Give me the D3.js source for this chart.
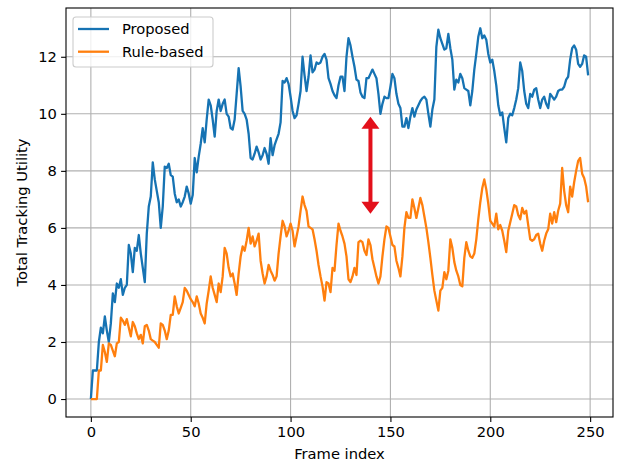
<!DOCTYPE html>
<html><head><meta charset="utf-8">
<script src="https://cdn.jsdelivr.net/npm/d3@7/dist/d3.min.js"></script>
<style>
body{margin:0;background:#fff}
svg{display:block}
text{font-family:"DejaVu Sans",sans-serif;fill:#000}
</style>
</head><body>
<svg id="chart" width="619" height="464"></svg>
<script>
// ---- data ----
const seriesNames = ["Proposed", "Rule-based"];
const seriesColors = ["#1673b3", "#ff7f0e"];
const proposed = [
0,1.0,1.0,1.0,2.0,2.5,2.3,2.9,2.4,2.0,
2.65,3.7,3.4,4.05,3.9,4.2,3.65,3.9,4.0,5.4,
5.1,4.45,5.3,5.2,5.75,5.1,4.6,4.1,5.8,6.75,
7.1,8.3,7.7,7.3,6.9,6.0,6.75,8.15,8.1,8.25,
7.85,7.8,7.2,6.9,7.0,6.75,6.9,7.1,7.45,7.2,
6.85,7.15,8.45,7.95,8.5,8.95,9.5,9.0,9.8,10.5,
10.3,9.8,9.2,10.1,10.5,10.1,10.35,10.5,10.0,9.9,
9.5,9.45,9.8,10.7,11.6,10.95,10.1,10.0,9.8,9.3,
8.45,8.4,8.6,8.85,8.65,8.4,8.55,8.8,8.6,8.25,
9.15,8.55,8.9,9.1,9.3,9.7,11.15,11.1,11.25,11.05,
10.6,10.1,9.85,9.95,10.35,10.8,12.0,11.35,10.8,11.3,
12.05,11.45,11.55,11.8,11.75,11.8,12.0,12.1,11.9,11.25,
11.05,10.8,10.65,10.55,11.0,11.3,11.3,10.8,12.0,12.65,
12.4,12.0,11.65,11.2,11.15,10.75,10.6,10.55,11.25,11.25,
11.4,11.55,11.4,11.25,10.7,10.0,10.35,10.6,10.55,10.55,
10.95,11.4,11.25,10.7,10.35,10.2,9.55,9.55,9.85,9.5,
9.9,10.2,9.9,10.15,10.3,10.45,10.55,10.6,10.5,10.0,
9.55,10.15,10.5,12.35,12.95,12.65,12.45,12.25,12.3,12.8,
12.3,11.9,10.85,11.2,11.1,11.4,11.25,10.9,10.85,10.8,
10.3,10.8,11.55,12.1,12.7,13.0,12.65,12.75,12.6,12.1,
11.8,11.9,11.5,11.0,10.3,9.95,10.05,9.5,9.0,9.85,
10.0,9.95,10.2,10.5,10.9,11.8,11.5,10.8,10.35,10.2,
10.7,10.6,10.85,10.9,10.5,10.2,10.5,10.6,10.35,10.2,
10.7,10.6,10.5,10.6,10.8,10.85,10.85,10.95,11.2,11.3,
11.9,12.3,12.4,12.25,11.75,11.65,11.75,12.05,12.0,11.35
];
const ruleBased = [
0,0,0,0,1.0,1.0,1.9,1.65,1.3,1.95,
1.9,1.7,1.5,1.95,2.0,2.85,2.75,2.6,2.8,2.5,
2.2,2.7,2.55,2.3,2.1,2.25,1.95,2.55,2.6,2.4,
2.1,2.05,2.0,1.9,1.8,2.65,2.6,2.4,2.1,2.4,
2.95,2.95,3.6,3.25,3.0,3.2,3.4,3.9,3.8,3.65,
3.5,3.4,3.25,3.6,3.35,3.0,2.85,2.65,3.35,3.8,
4.3,3.9,3.65,3.4,4.05,3.75,4.3,5.3,5.1,4.6,
4.3,4.4,4.05,3.65,4.4,5.0,5.35,5.2,5.55,6.0,
5.45,5.7,5.35,5.55,5.8,4.85,4.4,4.05,4.3,4.7,
4.5,4.35,4.15,4.3,5.1,5.7,6.25,6.05,5.7,5.9,
6.15,5.9,5.35,5.7,6.05,6.6,7.1,6.8,6.6,6.05,
6.0,5.95,5.6,5.2,4.7,4.3,3.95,3.45,4.1,4.05,
3.75,4.6,4.5,5.4,6.15,5.9,5.7,5.45,5.0,4.2,
4.1,4.3,4.6,4.35,5.5,5.55,5.5,5.2,5.05,5.6,
5.4,4.9,4.6,4.3,4.05,4.3,5.0,5.6,6.05,6.0,
5.7,5.4,5.35,4.85,4.6,4.3,5.0,6.0,6.55,6.35,
6.35,7.0,6.7,6.35,6.7,7.05,6.8,6.4,6.0,5.5,
4.95,4.35,3.8,3.45,3.1,3.8,3.9,4.45,4.2,4.5,
5.6,5.3,4.8,4.5,4.3,4.0,3.95,4.95,5.5,5.2,
5.0,4.95,5.1,5.6,6.3,6.9,7.4,7.7,7.35,6.85,
6.25,6.15,6.05,6.5,5.95,6.1,5.9,5.55,5.15,5.9,
6.2,6.5,6.8,6.75,6.45,6.3,6.7,6.5,6.6,6.1,
5.6,5.55,5.6,5.75,5.8,5.45,5.2,5.55,5.8,5.95,
6.5,6.15,6.55,6.2,6.6,6.85,8.1,7.3,6.8,6.55,
7.45,7.1,7.6,8.0,8.35,8.45,7.9,7.75,7.45,6.9
];
const xTicks = [0, 50, 100, 150, 200, 250];
const yTicks = [0, 2, 4, 6, 8, 10, 12];
const xLabel = "Frame index";
const yLabel = "Total Tracking Utility";
const arrowFrame = 140;
const arrowSpan = [6.5, 9.9];

// ---- layout ----
const plot = {left: 66, right: 613, top: 8, bottom: 417};
const fs = 14.7;
const svg = d3.select("#chart");

const frames = proposed.map((d, i) => i);
const x = d3.scaleLinear().domain([-0.05 * (frames.length - 1), 1.05 * (frames.length - 1)]).range([plot.left, plot.right]);
const y = d3.scaleLinear().domain([-0.63, 13.71]).range([plot.bottom, plot.top]);

// grid
const grid = svg.append("g").attr("stroke", "#b0b0b0").attr("stroke-width", 1.1);
grid.selectAll("line.gx").data(xTicks).join("line")
  .attr("x1", d => x(d)).attr("x2", d => x(d))
  .attr("y1", plot.top).attr("y2", plot.bottom);
grid.selectAll("line.gy").data(yTicks).join("line")
  .attr("x1", plot.left).attr("x2", plot.right)
  .attr("y1", d => y(d)).attr("y2", d => y(d));

// series
const line = d3.line().x((d, i) => x(frames[i])).y(d => y(d));
[proposed, ruleBased].forEach((s, k) => {
  svg.append("path").datum(s)
    .attr("d", line)
    .attr("fill", "none")
    .attr("stroke", seriesColors[k])
    .attr("stroke-width", 2.3)
    .attr("stroke-linejoin", "round")
    .attr("stroke-linecap", "butt");
});

// arrow
const ax = x(arrowFrame);
const yTop = y(arrowSpan[1]), yBot = y(arrowSpan[0]);
const headL = 12, headW = 9;
const red = "#e3101b";
svg.append("line")
  .attr("x1", ax).attr("x2", ax)
  .attr("y1", yTop + headL - 1).attr("y2", yBot - headL + 1)
  .attr("stroke", red).attr("stroke-width", 4);
svg.append("path")
  .attr("d", `M${ax},${yTop} L${ax + headW},${yTop + headL} L${ax - headW},${yTop + headL} Z`)
  .attr("fill", red);
svg.append("path")
  .attr("d", `M${ax},${yBot} L${ax + headW},${yBot - headL} L${ax - headW},${yBot - headL} Z`)
  .attr("fill", red);

// axes
const xAxis = d3.axisBottom(x).tickValues(xTicks).tickSize(4.9).tickPadding(4.2).tickFormat(d3.format("d"));
const yAxis = d3.axisLeft(y).tickValues(yTicks).tickSize(4.9).tickPadding(4.2).tickFormat(d3.format("d"));
const gx = svg.append("g").attr("transform", `translate(0,${plot.bottom})`).call(xAxis);
const gy = svg.append("g").attr("transform", `translate(${plot.left},0)`).call(yAxis);
[gx, gy].forEach(g => {
  g.select(".domain").remove();
  g.selectAll(".tick line").attr("stroke", "#000").attr("stroke-width", 1.1);
  g.selectAll(".tick text").attr("font-size", fs).attr("font-family", "DejaVu Sans").attr("fill", "#000");
});

// spines
svg.append("rect")
  .attr("x", plot.left).attr("y", plot.top)
  .attr("width", plot.right - plot.left).attr("height", plot.bottom - plot.top)
  .attr("fill", "none").attr("stroke", "#000").attr("stroke-width", 1.1);

// labels
svg.append("text").attr("x", (plot.left + plot.right) / 2).attr("y", 459)
  .attr("text-anchor", "middle").attr("font-size", fs).text(xLabel);
svg.append("text")
  .attr("transform", `translate(27,${(plot.top + plot.bottom) / 2}) rotate(-90)`)
  .attr("text-anchor", "middle").attr("font-size", fs).text(yLabel);

// legend
const lg = svg.append("g");
lg.append("rect").attr("x", 73).attr("y", 17).attr("width", 140).attr("height", 50).attr("rx", 3)
  .attr("fill", "#fff").attr("fill-opacity", 0.8).attr("stroke", "#cccccc").attr("stroke-width", 1.1);
seriesNames.forEach((name, k) => {
  const cy = 29 + k * 22.7;
  lg.append("line").attr("x1", 78).attr("x2", 109).attr("y1", cy).attr("y2", cy)
    .attr("stroke", seriesColors[k]).attr("stroke-width", 2.3);
  lg.append("text").attr("x", 122).attr("y", cy).attr("dy", "0.36em")
    .attr("font-size", fs).text(name);
});
</script>
</body></html>
